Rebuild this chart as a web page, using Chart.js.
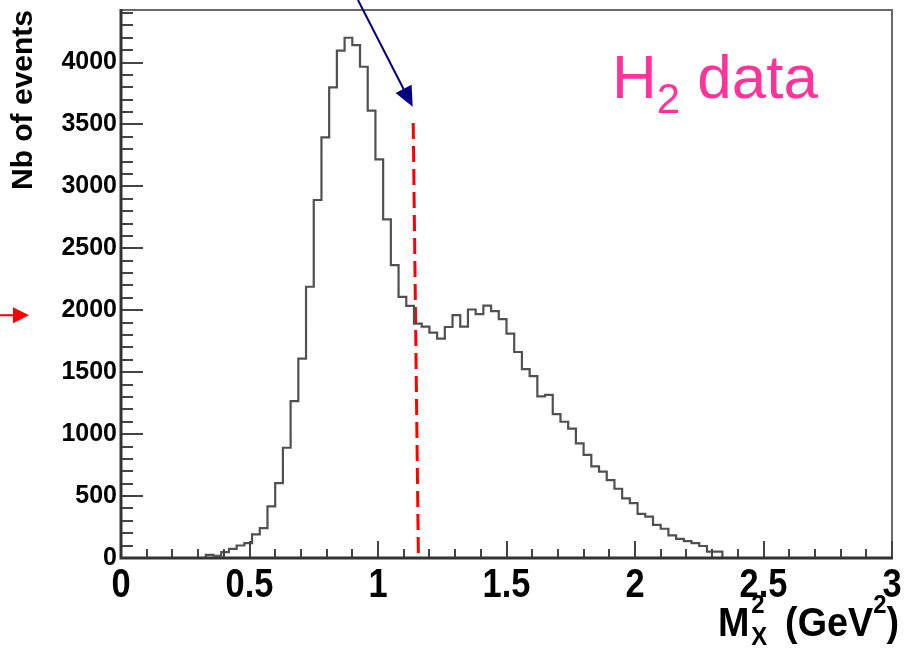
<!DOCTYPE html>
<html><head><meta charset="utf-8">
<script src="https://cdn.jsdelivr.net/npm/chart.js@4/dist/chart.umd.min.js"></script>
<style>html,body{margin:0;padding:0;background:#fff;}canvas{display:block;}</style>
</head><body>
<canvas id="c" width="906" height="649"></canvas>
<script>
// ---- data ----
const BIN_WIDTH = 0.03;
const X_MIN = 0, X_MAX = 3;
const Y_MIN = 0, Y_MAX = 4424;
const counts = [
  0,0,0,0,0,0,0,0,0,0,
  0,25,18,47,74,101,120,190,241,416,
  605,890,1267,1610,2190,2890,3395,3800,4096,4200,
  4141,3966,3611,3218,2733,2364,2108,2035,1892,1868,
  1820,1771,1865,1960,1868,2006,1968,2038,1993,1929,
  1811,1663,1525,1468,1305,1317,1161,1100,1044,925,
  832,740,697,629,559,482,443,357,334,267,
  236,182,155,136,120,97,51,51,0,0,
  0,0,0,0,0,0,0,0,0,0,
  0,0,0,0,0,0,0,0,0,0
];
const xTickValues = [0,0.5,1,1.5,2,2.5,3];
const xTickLabels = ['0','0.5','1','1.5','2','2.5','3'];
const yTickValues = [0,500,1000,1500,2000,2500,3000,3500,4000];
const yTickLabels = ['0','500','1000','1500','2000','2500','3000','3500','4000'];
const cutLineX = [1.137, 1.157];
const cutLineY = [3511, 36];
const cutArrowFrom = [0.922, 4505];
const cutArrowTo = [1.135, 3643];
const levelArrowFrom = [-0.471, 1960];
const levelArrowTo = [-0.358, 1960];
const yTitle = 'Nb of events';
const labelMain = 'H', labelSub = '2', labelRest = ' data';

// ---- build ----
// each point sits on a bin's low edge; 'before' stepping holds it across the bin
const histPoints = counts.map((c, i) => ({x: i * BIN_WIDTH, y: c}));
histPoints.push({x: X_MAX, y: counts[counts.length - 1]});
const cutPoints = cutLineX.map((x, i) => ({x: x, y: cutLineY[i]}));

const SANS = "'Liberation Sans',Arial,Helvetica,sans-serif";
const TICK_STRETCH = 0.86;
const TITLE_STRETCH = 0.92;

function arrow(ctx, x1, y1, x2, y2, color, lw, headLen, headHalf) {
  const a = Math.atan2(y2 - y1, x2 - x1);
  const bx = x2 - headLen * Math.cos(a), by = y2 - headLen * Math.sin(a);
  ctx.strokeStyle = color; ctx.lineWidth = lw;
  ctx.beginPath(); ctx.moveTo(x1, y1); ctx.lineTo(bx, by); ctx.stroke();
  ctx.fillStyle = color;
  ctx.beginPath();
  ctx.moveTo(x2, y2);
  ctx.lineTo(bx + headHalf * Math.sin(a), by - headHalf * Math.cos(a));
  ctx.lineTo(bx - headHalf * Math.sin(a), by + headHalf * Math.cos(a));
  ctx.closePath(); ctx.fill();
}

// condensed x tick labels (Helvetica-bold-condensed look), positions from the scale
const condensePlugin = {
  id: 'condense',
  beforeDraw(chart) {
    const sc = chart.scales.x;
    if (sc._condensed) return;
    sc._condensed = true;
    sc.drawLabels = function (chartArea) {
      const ctx = this.ctx;
      const items = this.getLabelItems(chartArea);
      for (const it of items) {
        const o = it.options;
        ctx.save();
        ctx.translate(o.translation[0], o.translation[1]);
        ctx.scale(TICK_STRETCH, 1);
        ctx.font = it.font.string;
        ctx.fillStyle = o.color;
        ctx.textAlign = o.textAlign;
        ctx.textBaseline = o.textBaseline;
        ctx.fillText(it.label, 0, it.textOffset);
        ctx.restore();
      }
    };
  }
};

const framePlugin = {
  id: 'frame',
  afterDatasetsDraw(chart) {
    const {ctx, chartArea: {left, right, top, bottom}, scales: {x, y}} = chart;
    ctx.save();
    ctx.strokeStyle = '#6a6a6a'; ctx.lineWidth = 2;
    ctx.beginPath(); ctx.moveTo(left, top); ctx.lineTo(right, top); ctx.lineTo(right, bottom); ctx.stroke();
    ctx.strokeStyle = '#444'; ctx.lineWidth = 2;
    ctx.beginPath();
    for (let k = 0; k * 100 <= Y_MAX; k++) {
      const py = Math.round(y.getPixelForValue(k * 100));
      const len = (k % 5 === 0) ? 22 : 12;
      ctx.moveTo(left, py); ctx.lineTo(left + len, py);
    }
    for (let k = 0; k <= 30; k++) {
      const px = Math.round(x.getPixelForValue(k / 10));
      const len = (k % 5 === 0) ? 17 : 9;
      ctx.moveTo(px, bottom); ctx.lineTo(px, bottom - len);
    }
    ctx.stroke();
    ctx.strokeStyle = '#333'; ctx.lineWidth = 3;
    ctx.beginPath(); ctx.moveTo(left, top - 1); ctx.lineTo(left, bottom); ctx.lineTo(right + 1, bottom); ctx.stroke();
    ctx.restore();
  }
};

const annotPlugin = {
  id: 'annot',
  afterDraw(chart) {
    const {ctx, scales: {x, y}} = chart;
    ctx.save();
    arrow(ctx, x.getPixelForValue(cutArrowFrom[0]), y.getPixelForValue(cutArrowFrom[1]),
      x.getPixelForValue(cutArrowTo[0]), y.getPixelForValue(cutArrowTo[1]), '#000080', 2, 20, 9);
    arrow(ctx, x.getPixelForValue(levelArrowFrom[0]), y.getPixelForValue(levelArrowFrom[1]),
      x.getPixelForValue(levelArrowTo[0]), y.getPixelForValue(levelArrowTo[1]), '#ff0000', 2, 16, 8);
    // H2 data label
    ctx.fillStyle = '#ff3399'; ctx.textBaseline = 'alphabetic'; ctx.textAlign = 'left';
    ctx.font = '62px ' + SANS;
    let tx = 612;
    ctx.fillText(labelMain, tx, 98); tx += ctx.measureText(labelMain).width;
    ctx.font = '42px ' + SANS;
    ctx.fillText(labelSub, tx, 113); tx += ctx.measureText(labelSub).width;
    ctx.font = '62px ' + SANS;
    ctx.fillText(labelRest, tx, 98);
    // x-axis title  M^2_X (GeV^2), condensed bold
    ctx.fillStyle = '#000';
    const big = 'bold 41px ' + SANS, small = 'bold 26px ' + SANS;
    ctx.font = big; const wM = ctx.measureText('M').width, wA = ctx.measureText(' (GeV').width, wB = ctx.measureText(')').width;
    ctx.font = small; const wS = Math.max(ctx.measureText('2').width, ctx.measureText('X').width), w2 = ctx.measureText('2').width;
    const gap = 8;
    const total = wM + 2 + wS + gap + wA + w2 + wB;
    ctx.translate(899, 0); ctx.scale(TITLE_STRETCH, 1); ctx.translate(-total, 0);
    let px = 0;
    const base = 636;
    ctx.font = big; ctx.fillText('M', px, base); px += wM + 2;
    ctx.font = small; ctx.fillText('2', px, 613); ctx.fillText('X', px, 645); px += wS + gap;
    ctx.font = big; ctx.fillText(' (GeV', px, base); px += wA;
    ctx.font = small; ctx.fillText('2', px, 613); px += w2;
    ctx.font = big; ctx.fillText(')', px, base);
    ctx.restore();
  }
};

new Chart(document.getElementById('c').getContext('2d'), {
  type: 'line',
  data: {
    datasets: [
      {data: histPoints, stepped: 'before', borderColor: '#505050', borderWidth: 2.2, pointRadius: 0, fill: false},
      {data: cutPoints, borderColor: '#ff0000', borderWidth: 3, borderDash: [16, 7], pointRadius: 0, fill: false}
    ]
  },
  options: {
    responsive: false, animation: false, devicePixelRatio: 1,
    layout: {padding: {top: 10, right: 14, left: 0, bottom: 0}},
    plugins: {legend: {display: false}, tooltip: {enabled: false}},
    scales: {
      x: {
        type: 'linear', min: X_MIN, max: X_MAX,
        afterBuildTicks: s => { s.ticks = xTickValues.map(v => ({value: v})); },
        ticks: {
          callback: v => xTickLabels[xTickValues.indexOf(v)],
          font: {family: SANS, size: 40, weight: 'bold'}, color: '#000',
          padding: 4, maxRotation: 0, minRotation: 0, autoSkip: false
        },
        grid: {display: false, drawTicks: false},
        border: {display: false},
        afterFit: s => { s.height = 91; s.paddingLeft = 0; s.paddingRight = 0; }
      },
      y: {
        min: Y_MIN, max: Y_MAX,
        afterBuildTicks: s => { s.ticks = yTickValues.map(v => ({value: v})); },
        ticks: {
          callback: v => yTickLabels[yTickValues.indexOf(v)],
          font: {family: SANS, size: 25, weight: 'bold'}, color: '#000',
          padding: 4, autoSkip: false
        },
        grid: {display: false, drawTicks: false},
        border: {display: false},
        title: {display: true, text: yTitle, align: 'end', color: '#000',
          font: {family: SANS, size: 30, weight: 'bold'}, padding: {top: 6, bottom: 0}},
        afterFit: s => { s.width = 121; s.paddingTop = 0; s.paddingBottom = 0; }
      }
    }
  },
  plugins: [condensePlugin, framePlugin, annotPlugin]
});
</script>
</body></html>
